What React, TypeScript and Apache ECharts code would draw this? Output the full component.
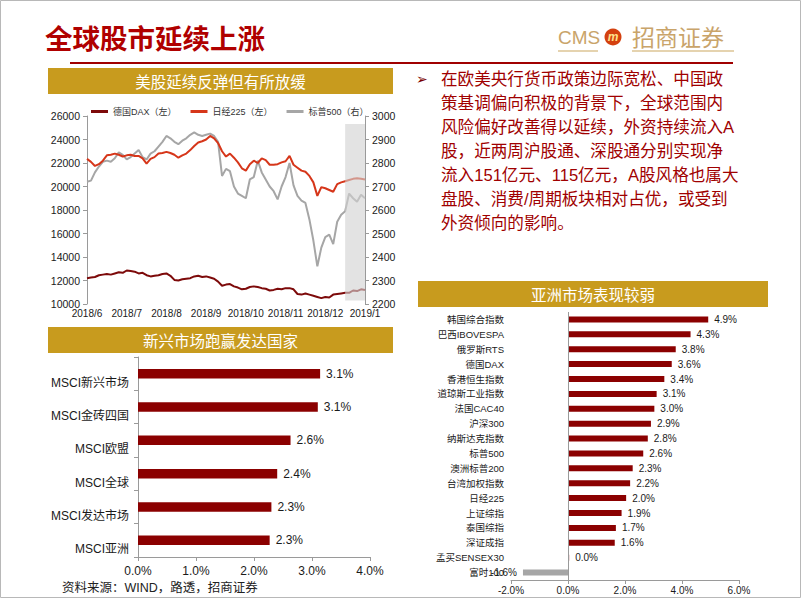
import React, { useEffect, useRef } from 'react';
import * as echarts from 'echarts';

// ---------- data ----------
const monthLabels = ['2018/6', '2018/7', '2018/8', '2018/9', '2018/10', '2018/11', '2018/12', '2019/1'];
const SAMPLE_STEP = 0.1; // one sample every tenth of a month

const daxValues = [
  12200, 12250, 12300, 12450, 12500, 12550, 12500, 12600, 12700, 12650,
  12850, 12800, 12750, 12600, 12650, 12450, 12350, 12400, 12450, 12550,
  12600, 12400, 12050, 12000, 12100, 12150, 12200, 12350, 12400, 12300,
  12350, 12250, 12150, 11900, 11550, 11650, 11700, 11500, 11400, 11250,
  11300, 11450, 11500, 11450, 11350, 11300, 11150, 11200, 11300, 11250,
  11350, 11350, 11250, 10850, 10800, 10900, 10800, 10700, 10600, 10500,
  10600, 10550, 10800, 10850, 10900, 10950, 10950, 11150, 11100, 11250, 11200,
];
const nikkeiValues = [
  22350, 22100, 21750, 21900, 22200, 22650, 22700, 22800, 22700, 22550,
  22650, 22700, 22600, 22600, 22400, 21950, 22350, 22500, 22800, 22850,
  22950, 22850, 22700, 22450, 22650, 22800, 23100, 23450, 23750, 23850,
  24000, 24300, 24100, 23700, 23000, 22550, 22800, 22450, 22050, 21550,
  21350, 21900, 22200, 22000, 22400, 22250, 21850, 21850, 21900, 22050,
  22150, 22600, 21850, 21600, 21350, 21250, 20900, 20350, 19200, 19950,
  19850, 19700, 19550, 20200, 20350, 20450, 20550, 20650, 20700, 20650, 20600,
];
const spxValues = [
  2720, 2725, 2760, 2785, 2805, 2810, 2805, 2820, 2845, 2835,
  2815, 2825, 2840, 2855, 2825, 2815, 2840, 2850, 2870, 2890,
  2915, 2905, 2890, 2880, 2895, 2905, 2920, 2930, 2920, 2915,
  2920, 2925, 2915, 2890, 2745, 2775, 2765, 2700, 2670, 2660,
  2650, 2730, 2740, 2810, 2760, 2730, 2700, 2680, 2645, 2700,
  2740, 2800, 2705, 2660, 2640, 2630, 2560, 2470, 2360, 2440,
  2485, 2495, 2455, 2550, 2580, 2595, 2670, 2650, 2635, 2665, 2650,
];
const lineSeriesNames = ['德国DAX（左）', '日经225（左）', '标普500（右）'];
// shaded window [fromMonth, toMonth, lowRight, highRight]
const shadeWindow = [6.5, 7, 2215, 2966];

const emCategories = ['MSCI新兴市场', 'MSCI金砖四国', 'MSCI欧盟', 'MSCI全球', 'MSCI发达市场', 'MSCI亚洲'];
const emValues = [3.14, 3.1, 2.63, 2.4, 2.3, 2.27];

const asiaCategories = [
  '韩国综合指数', '巴西IBOVESPA', '俄罗斯RTS', '德国DAX', '香港恒生指数', '道琼斯工业指数',
  '法国CAC40', '沪深300', '纳斯达克指数', '标普500', '澳洲标普200', '台湾加权指数',
  '日经225', '上证综指', '泰国综指', '深证成指', '孟买SENSEX30', '富时100',
];
const asiaValues = [4.92, 4.3, 3.78, 3.64, 3.38, 3.11, 3.03, 2.91, 2.8, 2.64, 2.27, 2.18, 2.04, 1.88, 1.68, 1.64, 0.04, -1.58];

const pageTitle = '全球股市延续上涨';
const panelTitles = ['美股延续反弹但有所放缓', '新兴市场跑赢发达国家', '亚洲市场表现较弱'];
const bodyLines = [
  '在欧美央行货币政策边际宽松、中国政',
  '策基调偏向积极的背景下，全球范围内',
  '风险偏好改善得以延续，外资持续流入A',
  '股，近两周沪股通、深股通分别实现净',
  '流入151亿元、115亿元，A股风格也属大',
  '盘股、消费/周期板块相对占优，或受到',
  '外资倾向的影响。',
];
const sourceNote = '资料来源：WIND，路透，招商证券';

// ---------- styles ----------
const FONT = "'Liberation Sans', 'Noto Sans CJK SC', sans-serif";
const CJK = "'Noto Sans CJK SC', sans-serif";
const DARK_RED = '#8b0000';
const GOLD = '#c89b1e';
const AXIS_GRAY = '#9a9a9a';
const TEXT = '#1a1a1a';

export default function App() {
  const ref = useRef<HTMLDivElement>(null);

  useEffect(() => {
    document.body.style.margin = '0';
    const chart = echarts.init(ref.current!, null, { renderer: 'svg' });

    const toPoints = (arr: number[]) => arr.map((v, i) => [Number((i * SAMPLE_STEP).toFixed(2)), v]);

    const band = (x: number, y: number, w: number, h: number, label: string) => [
      { type: 'rect', shape: { x, y, width: w, height: h }, style: { fill: GOLD }, z: 1 },
      {
        type: 'text', x: x + w / 2, y: y + h / 2, z: 2,
        style: { text: label, fill: '#ffffff', font: `15.5px ${CJK}`, align: 'center', verticalAlign: 'middle' },
      },
    ];

    const option: any = {
      animation: false,
      backgroundColor: '#ffffff',
      textStyle: { fontFamily: FONT },
      legend: {
        data: lineSeriesNames,
        left: 91, top: 107, padding: 0,
        icon: 'rect', itemWidth: 17, itemHeight: 3, itemGap: 14, itemStyle: { borderWidth: 0 },
        textStyle: { fontSize: 9, color: '#333', fontFamily: FONT },
      },
      grid: [
        { left: 87, right: 437, top: 116, bottom: 298 },
        { left: 138, right: 432, top: 357, bottom: 45 },
        { left: 511, right: 63, top: 312, bottom: 22 },
      ],
      xAxis: [
        {
          type: 'value', gridIndex: 0, min: 0, max: monthLabels.length - 1, interval: 1,
          axisLine: { show: false }, axisTick: { show: false }, splitLine: { show: false },
          axisLabel: { formatter: (v: number) => monthLabels[Math.round(v)], fontSize: 10, color: TEXT, margin: 4, showMinLabel: true, showMaxLabel: true },
        },
        {
          type: 'value', gridIndex: 1, min: 0, max: 4, interval: 1,
          axisLine: { show: true, lineStyle: { color: AXIS_GRAY } },
          axisTick: { show: true, length: 4, lineStyle: { color: AXIS_GRAY } },
          splitLine: { show: false },
          axisLabel: { formatter: (v: number) => v.toFixed(1) + '%', fontSize: 12, color: TEXT, margin: 8 },
        },
        {
          type: 'value', gridIndex: 2, min: -2, max: 6, interval: 2,
          axisLine: { show: true, lineStyle: { color: AXIS_GRAY } },
          axisTick: { show: true, length: 4, lineStyle: { color: AXIS_GRAY } },
          splitLine: { show: false },
          axisLabel: { formatter: (v: number) => v.toFixed(1) + '%', fontSize: 10, color: TEXT, margin: 5 },
        },
      ],
      yAxis: [
        {
          type: 'value', gridIndex: 0, position: 'left', min: 10000, max: 26000, interval: 2000,
          axisLine: { show: true, lineStyle: { color: AXIS_GRAY } },
          axisTick: { show: true, length: 4, lineStyle: { color: AXIS_GRAY } },
          splitLine: { show: false },
          axisLabel: { fontSize: 10.5, color: TEXT, margin: 7, formatter: (v: number) => String(v) },
        },
        {
          type: 'value', gridIndex: 0, position: 'right', min: 2200, max: 3000, interval: 100,
          axisLine: { show: true, lineStyle: { color: AXIS_GRAY } },
          axisTick: { show: true, length: 4, lineStyle: { color: AXIS_GRAY } },
          splitLine: { show: false },
          axisLabel: { fontSize: 10.5, color: TEXT, margin: 7, formatter: (v: number) => String(v) },
        },
        {
          type: 'category', gridIndex: 1, data: emCategories, inverse: true,
          axisLine: { show: true, lineStyle: { color: AXIS_GRAY } },
          axisTick: { show: true, length: 4, lineStyle: { color: AXIS_GRAY } },
          axisLabel: { interval: 0, fontSize: 12, color: TEXT, margin: 9, lineHeight: 18, verticalAlign: 'top' },
        },
        {
          type: 'category', gridIndex: 2, data: asiaCategories, inverse: true,
          axisLine: { show: false, onZero: false },
          axisTick: { show: false },
          axisLabel: { interval: 0, fontSize: 9.5, color: TEXT, margin: 7 },
        },
      ],
      series: [
        {
          name: lineSeriesNames[0], type: 'line', xAxisIndex: 0, yAxisIndex: 0,
          data: toPoints(daxValues), symbol: 'none', lineStyle: { width: 2, color: '#7d0a0a' }, itemStyle: { color: '#7d0a0a' }, z: 3,
        },
        {
          name: lineSeriesNames[1], type: 'line', xAxisIndex: 0, yAxisIndex: 0,
          data: toPoints(nikkeiValues), symbol: 'none', lineStyle: { width: 2, color: '#d6361a' }, itemStyle: { color: '#d6361a' }, z: 3,
        },
        {
          name: lineSeriesNames[2], type: 'line', xAxisIndex: 0, yAxisIndex: 1,
          data: toPoints(spxValues), symbol: 'none', lineStyle: { width: 2, color: '#a6a6a6' }, itemStyle: { color: '#a6a6a6' }, z: 2,
        },
        {
          type: 'custom', xAxisIndex: 0, yAxisIndex: 1, z: 10, silent: true,
          data: [shadeWindow],
          encode: { x: [0, 1], y: [2, 3] },
          renderItem: (_p: any, api: any) => {
            const a = api.coord([api.value(0), api.value(3)]);
            const b = api.coord([api.value(1), api.value(2)]);
            return {
              type: 'rect',
              shape: { x: a[0], y: a[1], width: b[0] - a[0], height: b[1] - a[1] },
              style: { fill: 'rgba(210,210,210,0.62)' },
            };
          },
        },
        {
          type: 'bar', xAxisIndex: 1, yAxisIndex: 2, data: emValues, barWidth: 9.5,
          itemStyle: { color: DARK_RED },
          label: {
            show: true, position: 'right', distance: 6, fontSize: 12, color: TEXT,
            formatter: (p: any) => Number(p.value).toFixed(1) + '%',
          },
        },
        {
          type: 'bar', xAxisIndex: 2, yAxisIndex: 3, barWidth: 6,
          data: asiaValues.map((v) => ({
            value: v,
            itemStyle: { color: v < 0 ? '#a6a6a6' : DARK_RED },
            label: { position: v < 0 ? 'left' : 'right' },
          })),
          label: {
            show: true, distance: 6, fontSize: 10, color: TEXT,
            formatter: (p: any) => Number(p.value).toFixed(1) + '%',
          },
          markLine: {
            silent: true, symbol: 'none', label: { show: false },
            lineStyle: { color: AXIS_GRAY, type: 'solid', width: 1 },
            data: [{ xAxis: 0 }],
          },
        },
      ],
      graphic: [
        { type: 'rect', shape: { x: 0.5, y: 0.5, width: 800, height: 597 }, style: { fill: 'none', stroke: '#b8b8b8', lineWidth: 1 }, silent: true },
        {
          type: 'text', x: 45, y: 37,
          style: { text: pageTitle, fill: '#b00000', font: `bold 27.5px ${CJK}`, verticalAlign: 'middle' },
        },
        { type: 'text', x: 558, y: 37, style: { text: 'CMS', fill: '#c9a46a', font: `19px ${FONT}`, verticalAlign: 'middle' } },
        { type: 'circle', shape: { cx: 613, cy: 37, r: 8.5 }, style: { fill: '#d4400f' } },
        { type: 'text', x: 613, y: 37, style: { text: 'm', fill: '#ffe08a', font: `italic bold 12px ${FONT}`, align: 'center', verticalAlign: 'middle' } },
        { type: 'text', x: 632, y: 36, style: { text: '招商证券', fill: '#c9a46a', font: `23px ${CJK}`, verticalAlign: 'middle' } },
        { type: 'line', shape: { x1: 558, y1: 51, x2: 598, y2: 51 }, style: { stroke: '#dcc595', lineWidth: 1.5 } },
        { type: 'line', shape: { x1: 632, y1: 51, x2: 734, y2: 51 }, style: { stroke: '#dcc595', lineWidth: 1.5 } },
        { type: 'line', shape: { x1: 70, y1: 63, x2: 733, y2: 63 }, style: { stroke: '#a00000', lineWidth: 2 } },
        ...band(48, 68, 345, 26, panelTitles[0]),
        ...band(48, 327, 345, 26, panelTitles[1]),
        ...band(418, 281, 350, 26, panelTitles[2]),
        { type: 'text', x: 416, y: 79, style: { text: '➢', fill: '#7a0000', font: `14px 'DejaVu Sans', sans-serif`, verticalAlign: 'middle' } },
        {
          type: 'text', x: 441, y: 67,
          style: { text: bodyLines.join('\n'), fill: '#a00000', font: `16.6px ${FONT}`, lineHeight: 24, verticalAlign: 'top' },
        },
        { type: 'text', x: 62, y: 588, style: { text: sourceNote, fill: '#222', font: `12.5px ${FONT}`, verticalAlign: 'middle' } },
      ],
    };

    chart.setOption(option);
    return () => chart.dispose();
  }, []);

  return <div ref={ref} style={{ position: 'absolute', left: 0, top: 0, width: 802, height: 602 }} />;
}
